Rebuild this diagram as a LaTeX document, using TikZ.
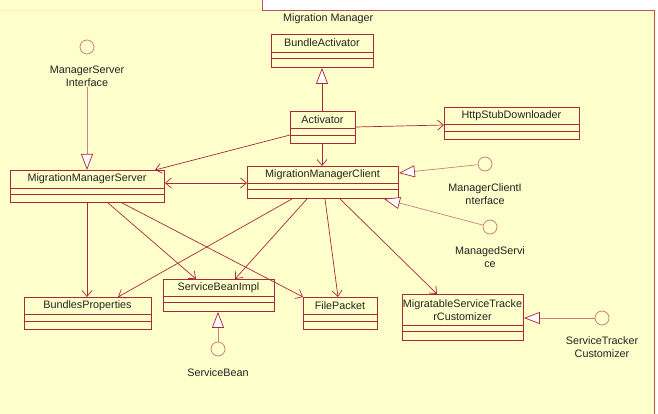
\documentclass[tikz,border=0pt]{standalone}
\usepackage{fontspec}
\setmainfont{Liberation Sans}
\usetikzlibrary{arrows.meta}
\definecolor{bg}{HTML}{FFFFCC}
\definecolor{umlred}{HTML}{A8283C}
\definecolor{ifcred}{HTML}{C98080}
\definecolor{txt}{HTML}{222222}
\begin{document}
\begin{tikzpicture}[x=1pt,y=-1pt,
  font=\fontsize{10.8}{13}\selectfont,
  cls/.style={draw=umlred, line width=0.9pt, fill=bg, anchor=north west, inner sep=0pt},
  clsname/.style={inner sep=0pt, text=txt, align=center},
  cmp/.style={draw=umlred, line width=0.7pt},
  dep/.style={draw=umlred, line width=0.7pt, -{Straight Barb[length=6pt,width=10pt,line width=0.7pt]}},
  bidep/.style={draw=umlred, line width=0.7pt, {Straight Barb[length=6pt,width=10pt,line width=0.7pt]}-{Straight Barb[length=6pt,width=10pt,line width=0.7pt]}},
  gen/.style={draw=umlred, line width=0.7pt, -{Triangle[length=16pt,width=12pt,color=umlred,fill=white,line width=0.7pt]}},
  real/.style={draw=ifcred, line width=0.7pt, -{Triangle[length=16pt,width=12pt,color=umlred,fill=white,line width=0.7pt]}},
  ifc/.style={circle, draw=ifcred, line width=0.8pt, fill=bg, minimum size=14pt, inner sep=0pt},
  ifclabel/.style={align=center, text=txt, inner sep=0pt}]
\useasboundingbox (0,0) rectangle (658,414);
% background and package
\fill[bg] (0,0) rectangle (658,414);
\fill[white] (262,0) rectangle (658,10);
\fill[white] (655.5,10) rectangle (658,414);
\draw[draw=yellow!60!orange!25, line width=0.6pt] (0,10) -- (262,10);
\draw[draw=umlred!80, line width=0.9pt] (262,0) -- (262,10) -- (654.5,10) -- (654.5,414);
\node[anchor=west, inner sep=0pt, text=txt] (pkg) at (283,19) {Migration Manager};

% classes
\node[cls, minimum width=102pt, minimum height=33pt] (ba) at (271,34) {};
\node[clsname] (baT) at (322,43) {BundleActivator};
\draw[cmp] (271,52) -- (373,52); \draw[cmp] (271,58.5) -- (373,58.5);

\node[cls, minimum width=65pt, minimum height=32pt] (act) at (290,111) {};
\node[clsname] (actT) at (322.5,120) {Activator};
\draw[cmp] (290,128) -- (355,128); \draw[cmp] (290,135) -- (355,135);

\node[cls, minimum width=135pt, minimum height=32pt] (http) at (444,107) {};
\node[clsname] (httpT) at (511.5,116) {HttpStubDownloader};
\draw[cmp] (444,124) -- (579,124); \draw[cmp] (444,131) -- (579,131);

\node[cls, minimum width=154pt, minimum height=32pt] (mms) at (10,170) {};
\node[clsname] (mmsT) at (87,179) {MigrationManagerServer};
\draw[cmp] (10,188) -- (164,188); \draw[cmp] (10,194) -- (164,194);

\node[cls, minimum width=151pt, minimum height=32pt] (mmc) at (247,166) {};
\node[clsname] (mmcT) at (322.5,175) {MigrationManagerClient};
\draw[cmp] (247,183) -- (398,183); \draw[cmp] (247,189) -- (398,189);

\node[cls, minimum width=127pt, minimum height=32pt] (bp) at (24,297) {};
\node[clsname] (bpT) at (87.5,306) {BundlesProperties};
\draw[cmp] (24,314) -- (151,314); \draw[cmp] (24,321) -- (151,321);

\node[cls, minimum width=111pt, minimum height=32pt] (sbi) at (163,279) {};
\node[clsname] (sbiT) at (218.5,288) {ServiceBeanImpl};
\draw[cmp] (163,296) -- (274,296); \draw[cmp] (163,302.5) -- (274,302.5);

\node[cls, minimum width=74pt, minimum height=32pt] (fp) at (303,297) {};
\node[clsname] (fpT) at (340,306) {FilePacket};
\draw[cmp] (303,314) -- (377,314); \draw[cmp] (303,321) -- (377,321);

\node[cls, minimum width=121pt, minimum height=46pt] (mstc) at (402,294) {};
\node[clsname] (mstcT) at (462.5,310) {MigratableServiceTracke\\rCustomizer};
\draw[cmp] (402,325) -- (523,325); \draw[cmp] (402,331) -- (523,331);

% interfaces
\node[ifc] (msi) at (87,47) {};
\node[ifclabel] (msiL) at (87,76.5) {ManagerServer\\Interface};
\node[ifc] (mci) at (485,164) {};
\node[ifclabel] (mciL) at (485,194.5) {ManagerClientI\\nterface};
\node[ifc] (ms) at (490,227) {};
\node[ifclabel] (msL) at (490,257.5) {ManagedServi\\ce};
\node[ifc] (sb) at (218,349) {};
\node[ifclabel] (sbL) at (218,373) {ServiceBean};
\node[ifc] (stc) at (602,318) {};
\node[ifclabel] (stcL) at (602,347.5) {ServiceTracker\\Customizer};

% generalization / realization
\draw[gen] (322,0 |- act.north) -- (322,0 |- ba.south);
\draw[real] (msiL.south) -- (87,0 |- mms.north);
\draw[real] (mci) -- (mmc.north east |- 0,173);
\draw[real] (ms) -- (384,0 |- mmc.south);
\draw[real] (sb) -- (218,0 |- sbi.south);
\draw[real] (stc) -- (mstc.east |- stc);

% dependencies
\draw[dep] (act.east |- 0,127) -- (http.west |- 0,125);
\draw[dep] (act.west |- 0,135) -- (155,0 |- mms.north);
\draw[dep] (322,0 |- act.south) -- (322,0 |- mmc.north);
\draw[bidep] (mms.east |- 0,183) -- (mmc.west |- 0,183);
\draw[dep] (87,0 |- mms.south) -- (87,0 |- bp.north);
\draw[dep] (108,0 |- mms.south) -- (196,0 |- sbi.north);
\draw[dep] (122,0 |- mms.south) -- (fp.north west);
\draw[dep] (292,0 |- mmc.south) -- (118,0 |- bp.north);
\draw[dep] (307,0 |- mmc.south) -- (235,0 |- sbi.north);
\draw[dep] (325,0 |- mmc.south) -- (338,0 |- fp.north);
\draw[dep] (340,0 |- mmc.south) -- (437,0 |- mstc.north);
\end{tikzpicture}
\end{document}
